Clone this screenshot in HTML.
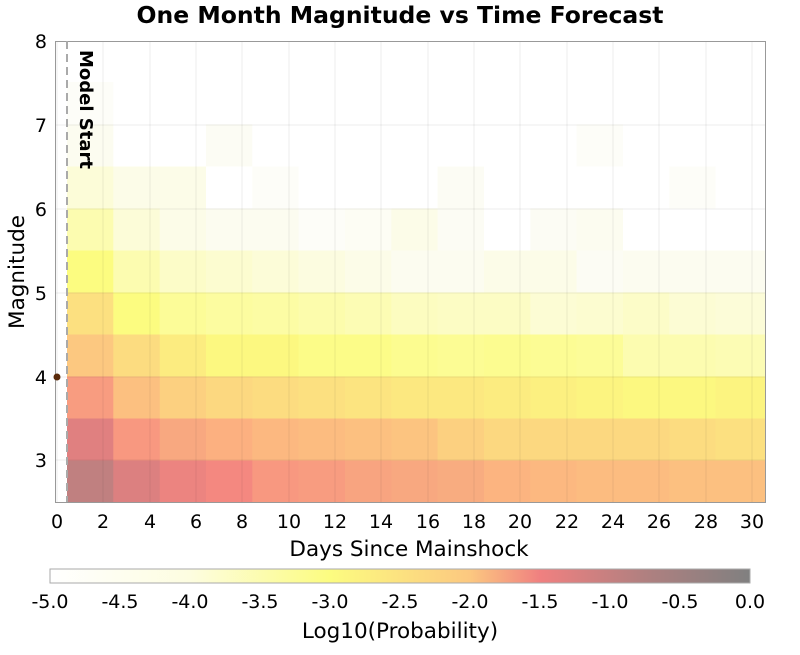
<!DOCTYPE html><html><head><style>body{margin:0;background:#fff}</style></head><body>
<svg width="800" height="650" xmlns="http://www.w3.org/2000/svg" font-family="DejaVu Sans, Liberation Sans, sans-serif">
<defs><linearGradient id="cb" x1="0" x2="1" y1="0" y2="0">
<stop offset="0" stop-color="#ffffff"/><stop offset="0.2" stop-color="#fdfde0"/><stop offset="0.4" stop-color="#fcfc80"/><stop offset="0.6" stop-color="#fcc880"/><stop offset="0.7" stop-color="#f08080"/><stop offset="0.85" stop-color="#b08080"/><stop offset="1" stop-color="#808080"/></linearGradient></defs>
<text x="400" y="23" text-anchor="middle" font-size="23.5" font-weight="bold">One Month Magnitude vs Time Forecast</text>
<g id="cells"></g>
<g stroke="#000" stroke-opacity="0.07" stroke-width="1">
<line x1="57" y1="41" x2="57" y2="502"/><line x1="103" y1="41" x2="103" y2="502"/><line x1="150" y1="41" x2="150" y2="502"/><line x1="196" y1="41" x2="196" y2="502"/><line x1="242" y1="41" x2="242" y2="502"/><line x1="289" y1="41" x2="289" y2="502"/><line x1="335" y1="41" x2="335" y2="502"/><line x1="381" y1="41" x2="381" y2="502"/><line x1="428" y1="41" x2="428" y2="502"/><line x1="474" y1="41" x2="474" y2="502"/><line x1="520" y1="41" x2="520" y2="502"/><line x1="567" y1="41" x2="567" y2="502"/><line x1="613" y1="41" x2="613" y2="502"/><line x1="659" y1="41" x2="659" y2="502"/><line x1="706" y1="41" x2="706" y2="502"/><line x1="752" y1="41" x2="752" y2="502"/>
<line x1="55" y1="125" x2="765" y2="125"/><line x1="55" y1="209" x2="765" y2="209"/><line x1="55" y1="293" x2="765" y2="293"/><line x1="55" y1="377" x2="765" y2="377"/><line x1="55" y1="460" x2="765" y2="460"/>
</g>
<rect x="55.5" y="41.5" width="710" height="461" fill="none" stroke="#999"/>
<line x1="67" y1="41" x2="67" y2="502" stroke="#aaa" stroke-width="2" stroke-dasharray="8,5"/>
<text transform="translate(80,50) rotate(90)" font-size="18" font-weight="bold">Model Start</text>
<circle cx="57" cy="377" r="3.5" fill="#5a2a0a"/>
<g font-size="19" text-anchor="end">
<text x="47" y="48">8</text><text x="47" y="132">7</text><text x="47" y="216">6</text><text x="47" y="300">5</text><text x="47" y="384">4</text><text x="47" y="467">3</text></g>
<g font-size="19" text-anchor="middle">
<text x="57" y="528">0</text><text x="103" y="528">2</text><text x="150" y="528">4</text><text x="196" y="528">6</text><text x="242" y="528">8</text><text x="289" y="528">10</text><text x="335" y="528">12</text><text x="381" y="528">14</text><text x="428" y="528">16</text><text x="474" y="528">18</text><text x="520" y="528">20</text><text x="567" y="528">22</text><text x="613" y="528">24</text><text x="659" y="528">26</text><text x="706" y="528">28</text><text x="752" y="528">30</text></g>
<text x="409" y="556" text-anchor="middle" font-size="21.5">Days Since Mainshock</text>
<text transform="translate(24,272) rotate(-90)" text-anchor="middle" font-size="21.5">Magnitude</text>
<rect x="50" y="569" width="700" height="14" fill="url(#cb)" stroke="#aaa"/>
<g font-size="19" text-anchor="middle">
<text x="50" y="608">-5.0</text><text x="120" y="608">-4.5</text><text x="190" y="608">-4.0</text><text x="260" y="608">-3.5</text><text x="330" y="608">-3.0</text><text x="400" y="608">-2.5</text><text x="470" y="608">-2.0</text><text x="540" y="608">-1.5</text><text x="610" y="608">-1.0</text><text x="680" y="608">-0.5</text><text x="750" y="608">0.0</text></g>
<text x="400" y="638" text-anchor="middle" font-size="21.5">Log10(Probability)</text>
</svg>
<script>
var rows=[
["c08080","dc8080","ec8480","f48880","f89880","f89c80","f8a480","f8a880","f8ac80","fcb480","fcb880","fcbc80","fcbc80","fcc080","fcc080"],
["e08080","f89880","f8a880","fcb080","fcb880","fcbc80","fcc080","fcc480","fcd080","fcd880","fcd880","fcd880","fcd880","fcdc80","fce080"],
["f89c80","fcc080","fcd080","fcd880","fcdc80","fce080","fce480","fce880","fce880","fcec80","fcf080","fcf480","fcf880","fcf880","fcf480"],
["fcc880","fcdc80","fcec80","fcf880","fcf880","fcfc88","fcfc88","fcfc90","fcfc94","fcfc90","fcfc94","fcfc98","fcfcb0","fcfcb0","fcfcb4"],
["fce080","fcfc80","fcfc98","fcfca0","fcfca4","fcfcac","fcfcb4","fcfcc0","fcfcc4","fcfcc4","fcfcd4","fcfcd0","fcfcc8","fcfcd4","fcfcd8"],
["fcfc80","fcfcb0","fcfcc8","fcfcd0","fcfcd8","fcfce0","fcfce8","fcfcf0","fcfcf0","fcfce8","fcfce8","fcfcf4","fcfcf0","fcfcf0","fcfcf0"],
["fcfcb0","fcfcd8","fcfce8","fcfcf0","fcfcf0","fdfdf8","fdfdf4","fcfce8","fcfcf4","ffffff","fcfcf4","fcfcf0","ffffff","ffffff","ffffff"],
["fcfcd8","fcfce8","fcfce8","ffffff","fdfdf8","ffffff","ffffff","ffffff","fcfcf4","ffffff","ffffff","ffffff","ffffff","fdfdf8","ffffff"],
["fcfcf0","ffffff","ffffff","fcfcf4","ffffff","ffffff","ffffff","ffffff","ffffff","ffffff","ffffff","fdfdf8","ffffff","ffffff","ffffff"],
["fdfdf8","ffffff","ffffff","ffffff","ffffff","ffffff","ffffff","ffffff","ffffff","ffffff","ffffff","ffffff","ffffff","ffffff","ffffff"]];
var g=document.getElementById("cells"),s="";
for(var r=0;r<rows.length;r++){var y1=502-42*r,y0=y1-42;for(var c=0;c<15;c++){var x0=67+46.33*c,x1=c==14?765:67+46.33*(c+1);
s+='<rect x="'+x0.toFixed(1)+'" y="'+y0+'" width="'+(x1-x0+0.5).toFixed(1)+'" height="42.5" fill="#'+rows[r][c]+'"/>';}}
g.innerHTML=s;
</script>
</body></html>
